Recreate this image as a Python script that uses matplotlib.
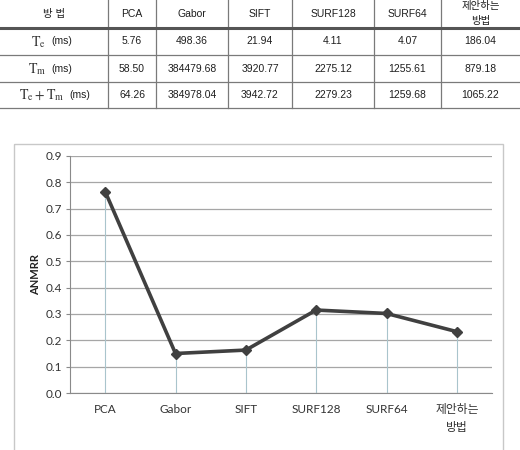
import matplotlib
matplotlib.use("Agg")
import matplotlib.pyplot as plt
from matplotlib.patches import Rectangle
from matplotlib.lines import Line2D

# ---- data ----
methods = ["PCA", "Gabor", "SIFT", "SURF128", "SURF64", "제안하는\n방법"]
anmrr = [0.765, 0.150, 0.163, 0.315, 0.302, 0.233]
row_math = [r"$\mathrm{T}_{\mathrm{e}}$", r"$\mathrm{T}_{\mathrm{m}}$",
            r"$\mathrm{T}_{\mathrm{e}}+\mathrm{T}_{\mathrm{m}}$"]
row_unit = "(ms)"
te = ["5.76", "498.36", "21.94", "4.11", "4.07", "186.04"]
tm = ["58.50", "384479.68", "3920.77", "2275.12", "1255.61", "879.18"]
tsum = ["64.26", "384978.04", "3942.72", "2279.23", "1259.68", "1065.22"]
yticks = [0.0, 0.1, 0.2, 0.3, 0.4, 0.5, 0.6, 0.7, 0.8, 0.9]

W, H = 520, 450
fig = plt.figure(figsize=(W / 100, H / 100), dpi=100)
fig.patch.set_facecolor("white")

TF = ["Liberation Sans", "Noto Sans CJK KR"]
CF = ["Lato", "Noto Sans CJK KR"]
TC = "#1e1e1e"

# ---- table (pixel coordinates) ----
axt = fig.add_axes([0, 0, 1, 1])
axt.set_xlim(0, W)
axt.set_ylim(H, 0)
axt.axis("off")
col_edges = [0, 108, 156, 228, 292, 374, 441, 520]
row_edges = [0, 28, 55, 82, 108]
for xx in col_edges[1:-1]:
    axt.add_line(Line2D([xx, xx], [0, 108], color="#7a7a7a", lw=0.9))
axt.add_line(Line2D([0, W], [27.5, 27.5], color="#555555", lw=2.2))
for y in row_edges[2:]:
    axt.add_line(Line2D([0, W], [y, y], color="#7a7a7a", lw=0.9))
centers = [(col_edges[i] + col_edges[i + 1]) / 2 for i in range(len(col_edges) - 1)]
axt.text(centers[0], 14, "방 법", ha="center", va="center", fontsize=7.5, family=TF, color=TC)
for i, m in enumerate(methods):
    if "\n" in m:
        a, b = m.split("\n")
        axt.text(centers[i + 1], 6, a, ha="center", va="center", fontsize=7.5, family=TF, color=TC)
        axt.text(centers[i + 1], 21, b, ha="center", va="center", fontsize=7.5, family=TF, color=TC)
    else:
        axt.text(centers[i + 1], 14, m, ha="center", va="center", fontsize=7.5, family=TF, color=TC)
rows = [te, tm, tsum]
math_right = [46, 46, 64]
for r, (lab, vals) in enumerate(zip(row_math, rows)):
    yc = (row_edges[r + 1] + row_edges[r + 2]) / 2
    axt.text(math_right[r], yc + 0.5, lab, ha="right", va="center", fontsize=10,
             math_fontfamily="stix", color="#333")
    axt.text(math_right[r] + 5, yc, row_unit, ha="left", va="center", fontsize=7.5,
             family=TF, color=TC)
    for i, v in enumerate(vals):
        axt.text(centers[i + 1], yc, v, ha="center", va="center", fontsize=7.5, family=TF, color=TC)

# chart frame
axt.add_patch(Rectangle((14, 144), 489, 320, fill=False, edgecolor="#c8c8c8", lw=1.0))

# ---- chart ----
ax = fig.add_axes([70 / W, (H - 393) / H, (492 - 70) / W, (393 - 156) / H])
x = list(range(len(methods)))
ax.set_xlim(-0.5, len(methods) - 0.5)
ax.set_ylim(0, 0.9)
ax.set_yticks(yticks)
ax.set_yticklabels([f"{v:.1f}" for v in yticks], family=CF, fontsize=8.5, color="#333")
ax.set_xticks(x)
ax.set_xticklabels(methods, family=CF, fontsize=8.5, color="#333", linespacing=1.8)
ax.tick_params(axis="x", length=0, pad=8)
ax.tick_params(axis="y", length=3, color="#8a8a8a", pad=3)
for s in ["top", "right"]:
    ax.spines[s].set_visible(False)
ax.spines["left"].set_color("#8a8a8a")
ax.spines["bottom"].set_color("#8a8a8a")
ax.grid(axis="y", color="#a6a6a6", lw=0.9)
ax.set_axisbelow(True)
ax.vlines(x, 0, anmrr, color="#a9c4cc", lw=0.8, zorder=2)
ax.plot(x, anmrr, color="#404040", lw=2.6, marker="D", markersize=5, zorder=3)
ax.set_ylabel("ANMRR", family=CF, fontsize=8, fontweight="bold", color="#222", labelpad=3)

fig.savefig("out.png", dpi=100)
